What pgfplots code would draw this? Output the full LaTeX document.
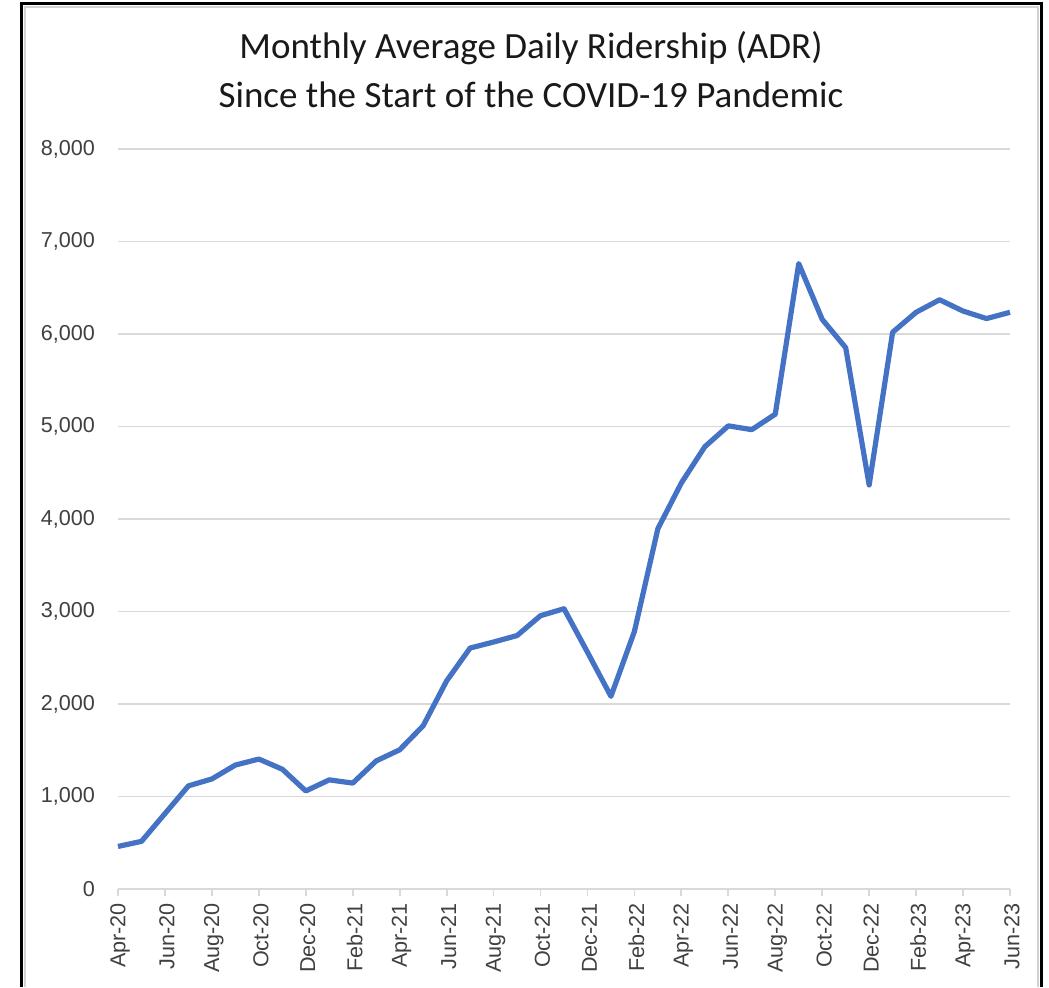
\documentclass[border=0pt]{standalone}
\usepackage{pgfplots}
\pgfplotsset{compat=1.18}
\usepackage{fontspec}
\setmainfont{Liberation Sans}
\newfontfamily\titlefont{Carlito}

\definecolor{adrblue}{HTML}{4472C4}
\definecolor{gridgray}{HTML}{D9D9D9}
\definecolor{labelgray}{HTML}{404040}

% one pixel of the reference = 0.5pt
\begin{document}
\begin{tikzpicture}
\useasboundingbox (0,0) rectangle (524.5pt,493.5pt);

% frame of the screenshot
\draw[gray!35, line width=1pt] (12.4pt,0) -- (12.4pt,490.2pt) -- (519.2pt,490.2pt) -- (519.2pt,0);
\draw[black, line width=1.5pt] (10.85pt,0) -- (10.85pt,491.75pt) -- (520.5pt,491.75pt) -- (520.5pt,0);

\node[font=\titlefont\fontsize{18.5}{22}\selectfont, text=black!90] at (265.5pt,469.5pt)
  {Monthly Average Daily Ridership (ADR)};
\node[font=\titlefont\fontsize{18.5}{22}\selectfont, text=black!90] at (265.5pt,446pt)
  {Since the Start of the COVID-19 Pandemic};

\begin{axis}[
    at={(59pt,49pt)}, anchor=south west,
    scale only axis,
    width=446pt, height=370pt,
    xmin=0, xmax=38,
    ymin=0, ymax=8000,
    ytick={0,1000,...,8000},
    xtick={0,2,...,38},
    xticklabels={Apr-20,Jun-20,Aug-20,Oct-20,Dec-20,Feb-21,Apr-21,Jun-21,Aug-21,Oct-21,
                 Dec-21,Feb-22,Apr-22,Jun-22,Aug-22,Oct-22,Dec-22,Feb-23,Apr-23,Jun-23},
    axis lines*=left,
    separate axis lines,
    y axis line style={draw=none},
    x axis line style={draw=gridgray, line width=0.9pt},
    ymajorgrids,
    grid style={gridgray, line width=0.9pt},
    tick align=outside,
    x tick style={gridgray, line width=0.9pt},
    y tick style={draw=none},
    major tick length=3.5pt,
    /pgf/number format/assume math mode=true,
    /pgf/number format/1000 sep={,},
    tick label style={font=\fontsize{10.8}{12}\selectfont, text=labelgray},
    yticklabel style={xshift=-4.5pt},
    xticklabel style={rotate=90, anchor=east, yshift=-1pt},
    clip=false,
]
\addplot[adrblue, line width=2.6pt, line join=round] coordinates {
(0,460) (1,515) (2,815) (3,1115) (4,1190) (5,1340) (6,1405) (7,1295)
(8,1060) (9,1180) (10,1145) (11,1385) (12,1505) (13,1765) (14,2250)
(15,2605) (16,2670) (17,2740) (18,2955) (19,3030) (20,2560) (21,2083)
(22,2785) (23,3896) (24,4390) (25,4782) (26,5007) (27,4966) (28,5133)
(29,6761) (30,6158) (31,5852) (32,4368) (33,6019) (34,6235) (35,6370)
(36,6248) (37,6167) (38,6235)
};
\end{axis}
\end{tikzpicture}
\end{document}
